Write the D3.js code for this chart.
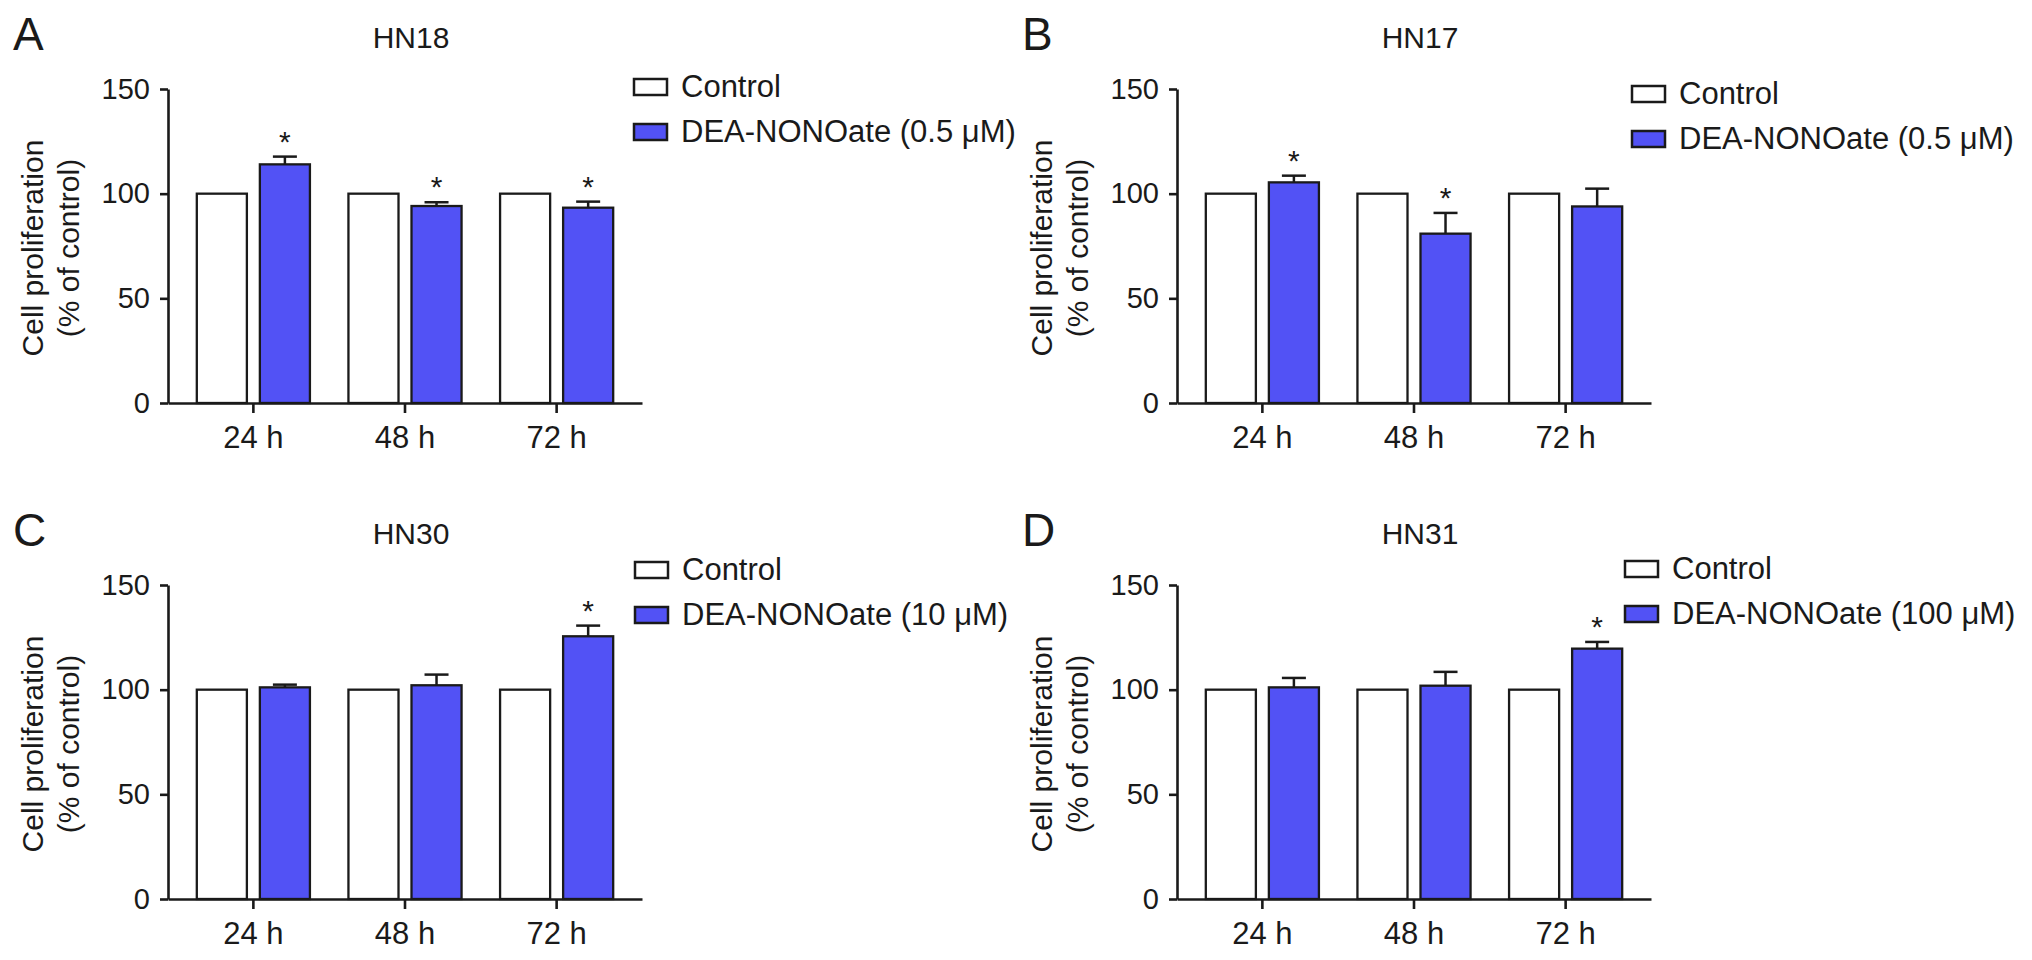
<html>
<script src='https://d3js.org/d3.v7.min.js'></script>
<style>
body {margin:0; background:#fff;}
text {font-family:'Liberation Sans', Arial, Helvetica, sans-serif; fill:#1a1a1a;}
.axis path, .axis line {stroke:#1a1a1a; stroke-width:2.6;}
.axis text {font-size:29px; fill:#1a1a1a; font-family:'Liberation Sans', Arial, sans-serif;}
.xaxis text {font-size:31px;}
</style>
<body onload='init()'>
<svg width=2032 height=960></svg>
<script>
// values (% of control, mean + SEM)
var timePoints = ["24 h", "48 h", "72 h"];
var panelLetters = ["A", "B", "C", "D"];
var cellLines = ["HN18", "HN17", "HN30", "HN31"];
var controlLabel = "Control";
var doseLabels = ["DEA-NONOate (0.5 \u03bcM)", "DEA-NONOate (0.5 \u03bcM)", "DEA-NONOate (10 \u03bcM)", "DEA-NONOate (100 \u03bcM)"];
var controlValues = [[100, 100, 100], [100, 100, 100], [100, 100, 100], [100, 100, 100]];
var deaValues = [[114.0, 94.1, 93.3], [105.4, 80.9, 93.9], [101.1, 102.1, 125.5], [101.1, 101.9, 119.6]];
var deaErrors = [[3.7, 1.8, 2.9], [3.2, 9.9, 8.5], [1.3, 5.1, 5.1], [4.5, 6.6, 3.2]];
var significant = [[true, true, true], [true, true, false], [false, false, true], [false, false, true]];
var yTicks = [0, 50, 100, 150];

var blue = "#5252f5";

function init()
{
    var svg = d3.select("svg");
    var plotW = 474, plotH = 314;

    // panel origins: y-axis x position and top of the value axis
    var origin = [[168, 89], [1177, 89], [168, 585], [1177, 585]];
    // legend first-row centre relative to origin
    var legendPos = [[466, -2], [455, 5], [467, -15], [448, -16]];

    var y = d3.scaleLinear().domain([0, 150]).range([plotH, 0]);
    var x0 = d3.scaleBand().domain(timePoints).range([0, plotW]).paddingInner(0.254).paddingOuter(0.19);
    var x1 = d3.scaleBand().domain(["ctrl", "dea"]).range([0, x0.bandwidth()]).paddingInner(0.206);

    panelLetters.forEach(function(letter, p) {
        var g = svg.append("g").attr("transform", "translate(" + origin[p][0] + "," + origin[p][1] + ")");

        g.append("text").text(letter)
            .attr("x", -155).attr("y", -39)
            .style("font-size", "46px");

        g.append("text").text(cellLines[p])
            .attr("x", 243).attr("y", -41)
            .attr("text-anchor", "middle")
            .style("font-size", "30px");

        // y title, two lines
        var yt = g.append("text")
            .attr("transform", "translate(0," + (plotH / 2 + 2) + ") rotate(-90)")
            .attr("text-anchor", "middle")
            .style("font-size", "30px");
        yt.append("tspan").attr("x", 0).attr("y", -125).text("Cell proliferation");
        yt.append("tspan").attr("x", 0).attr("y", -89).text("(% of control)");

        var rows = timePoints.map(function(t, i) {
            return {t: t, ctrl: controlValues[p][i], dea: deaValues[p][i], err: deaErrors[p][i], sig: significant[p][i]};
        });

        var grp = g.selectAll(".grp").data(rows).enter().append("g")
            .attr("transform", function(d) { return "translate(" + x0(d.t) + ",0)"; });

        grp.append("rect")
            .attr("x", x1("ctrl")).attr("width", x1.bandwidth())
            .attr("y", function(d) { return y(d.ctrl); })
            .attr("height", function(d) { return plotH - y(d.ctrl); })
            .attr("fill", "#fff").attr("stroke", "#1a1a1a").attr("stroke-width", 2.3);

        grp.append("rect")
            .attr("x", x1("dea")).attr("width", x1.bandwidth())
            .attr("y", function(d) { return y(d.dea); })
            .attr("height", function(d) { return plotH - y(d.dea); })
            .attr("fill", blue).attr("stroke", "#1a1a1a").attr("stroke-width", 2.3);

        var cx = x1("dea") + x1.bandwidth() / 2;
        grp.append("line")
            .attr("x1", cx).attr("x2", cx)
            .attr("y1", function(d) { return y(d.dea); })
            .attr("y2", function(d) { return y(d.dea + d.err); })
            .attr("stroke", "#1a1a1a").attr("stroke-width", 2.5);
        grp.append("line")
            .attr("x1", cx - 12).attr("x2", cx + 12)
            .attr("y1", function(d) { return y(d.dea + d.err); })
            .attr("y2", function(d) { return y(d.dea + d.err); })
            .attr("stroke", "#1a1a1a").attr("stroke-width", 2.5);

        grp.filter(function(d) { return d.sig; }).append("text").text("*")
            .attr("x", cx).attr("y", function(d) { return y(d.dea + d.err) - 5; })
            .attr("text-anchor", "middle")
            .style("font-size", "30px");

        g.append("g").attr("class", "axis")
            .call(d3.axisLeft(y).tickValues(yTicks).tickSize(8).tickPadding(10).tickSizeOuter(0));

        g.append("g").attr("class", "axis xaxis")
            .attr("transform", "translate(0," + plotH + ")")
            .call(d3.axisBottom(x0).tickSize(10).tickPadding(13).tickSizeOuter(0));

        // legend
        var lg = g.append("g").attr("transform", "translate(" + legendPos[p][0] + "," + legendPos[p][1] + ")");
        var items = [{label: controlLabel, fill: "#fff"}, {label: doseLabels[p], fill: blue}];
        var li = lg.selectAll("g").data(items).enter().append("g")
            .attr("transform", function(d, i) { return "translate(0," + (i * 45) + ")"; });
        li.append("rect").attr("x", 0).attr("y", -8).attr("width", 33).attr("height", 16)
            .attr("fill", function(d) { return d.fill; })
            .attr("stroke", "#1a1a1a").attr("stroke-width", 2.5);
        li.append("text").text(function(d) { return d.label; })
            .attr("x", 47).attr("y", 10)
            .style("font-size", "31px");
    });
}
</script>
</body>
</html>
